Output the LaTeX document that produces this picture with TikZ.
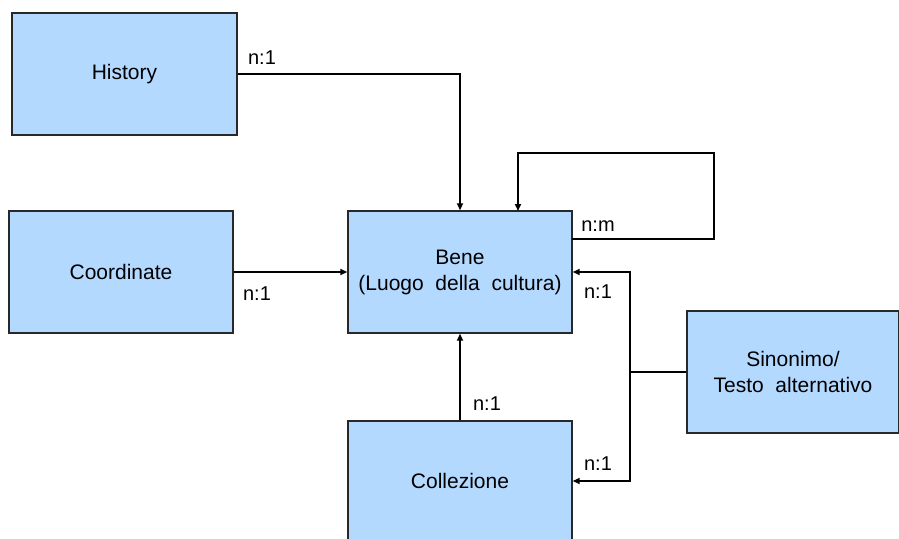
\documentclass[tikz,border=0pt]{standalone}
\usepackage{fontspec}
\setmainfont{Liberation Sans}
\usetikzlibrary{arrows.meta,positioning,calc}
\definecolor{boxfill}{RGB}{180,217,255}
\definecolor{boxline}{RGB}{40,40,40}
\tikzset{
  entity/.style={draw=boxline, line width=1.4pt, fill=boxfill, rectangle, inner sep=0pt, align=center, font=\fontsize{21}{26}\selectfont},
  link/.style={draw=black, line width=1.7pt, -{Triangle[length=7pt,width=6pt]}},
  plain/.style={draw=black, line width=1.7pt},
  lbl/.style={font=\fontsize{20}{22}\selectfont, inner sep=0pt}
}
\begin{document}
\begin{tikzpicture}[x=1pt,y=-1pt]
\clip (0,0) rectangle (899,538);
\fill[white] (0,0) rectangle (899,538);
\node[entity, minimum width=225pt, minimum height=122pt] (hist) at (124.5,74) {History};
\node[entity, minimum width=224pt, minimum height=122pt] (coord) at (121,272) {Coordinate};
\node[entity, minimum width=224pt, minimum height=122pt] (bene) at (460,272) {Bene\\(Luogo\ \ della\ \ cultura)};
\node[entity, minimum width=212pt, minimum height=122pt] (sino) at (793,372) {Sinonimo/\\Testo\ \ alternativo};
\node[entity, minimum width=224pt, minimum height=120pt] (coll) at (460,481) {Collezione};

\coordinate (j) at (630,372);
\coordinate (l1) at (572,239);
\coordinate (l2) at (714,239);
\coordinate (l3) at (714,153);
\coordinate (l4) at (518,153);
\coordinate (l5) at (518,211);

\draw[link] (hist.east) -| (bene.north);
\draw[link] (l1) -- (l2) -- (l3) -- (l4) -- (l5);
\draw[link] (coord.east) -- (bene.west);
\draw[link] (coll.north) -- (bene.south);
\draw[plain] (sino.west) -- (j);
\draw[link] (j) |- (bene.east);
\draw[link] (j) |- (coll.east);

\node[lbl] (t1) at (262,58) {n:1};
\node[lbl] (t2) at (598,226) {n:m};
\node[lbl] (t3) at (257,294) {n:1};
\node[lbl] (t4) at (598,292) {n:1};
\node[lbl] (t5) at (487,404) {n:1};
\node[lbl] (t6) at (598,464) {n:1};
\end{tikzpicture}
\end{document}
